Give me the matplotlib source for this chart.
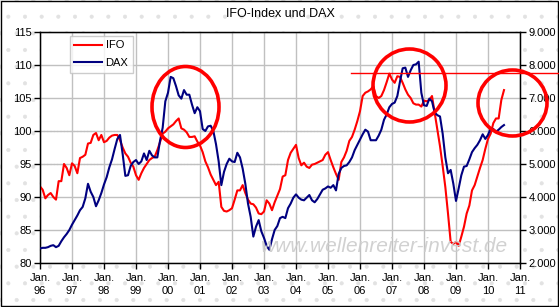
import numpy as np
import matplotlib
matplotlib.use('Agg')
import matplotlib.pyplot as plt
from matplotlib.patches import Ellipse, Rectangle

plt.rcParams['font.family'] = ['Liberation Sans', 'DejaVu Sans']

# monthly values, Jan 1996 .. Jul 2010
ifo = [
    91.6, 91.1, 89.8, 90.3, 90.6, 90.0, 89.6, 92.4, 92.4, 95.0, 94.4, 93.3,
    95.1, 94.7, 93.6, 95.9, 96.1, 96.4, 98.1, 98.2, 99.4, 99.7, 98.6, 99.4,
    98.3, 98.5, 99.0, 99.3, 99.4, 99.4, 98.6, 97.5, 96.6, 96.1, 95.2, 94.6,
    93.3, 92.6, 93.6, 94.4, 95.0, 95.6, 95.9, 96.1, 97.1, 98.3, 99.6, 99.9,
    100.4, 100.7, 101.0, 101.5, 101.9, 100.4, 100.2, 99.8, 99.1, 99.1, 99.2, 98.4,
    97.8, 96.8, 95.4, 94.5, 93.4, 92.6, 91.8, 92.3, 88.5, 87.9, 87.8, 88.0,
    88.3, 89.6, 91.0, 91.0, 91.8, 90.6, 89.6, 89.0, 88.9, 88.4, 87.5, 87.4,
    87.8, 89.5, 89.0, 88.0, 89.2, 90.2, 91.2, 93.1, 93.3, 95.6, 96.7, 97.3,
    97.9, 95.9, 94.8, 95.2, 94.6, 94.4, 94.9, 95.0, 95.2, 95.4, 95.6, 96.4,
    96.8, 95.6, 94.5, 93.5, 92.6, 95.3, 96.0, 97.0, 98.5, 99.1, 100.2, 101.5,
    103.0, 105.3, 105.8, 106.0, 106.3, 106.8, 105.3, 105.0, 105.3, 106.2, 107.4, 108.7,
    107.8, 107.3, 108.3, 108.2, 107.3, 106.3, 105.5, 105.0, 104.2, 104.0, 104.0, 103.7,
    104.6, 104.5, 104.7, 105.3, 102.8, 100.2, 97.7, 94.7, 91.5, 87.5, 83.2, 82.9,
    83.2, 82.6, 84.0, 85.5, 87.5, 88.7, 91.0, 91.8, 93.1, 94.4, 95.6, 97.3,
    98.8, 99.6, 101.2, 101.9, 101.9, 104.7, 106.2,
]

dax = [
    2440, 2460, 2460, 2480, 2520, 2540, 2480, 2520, 2660, 2780, 2880, 3000,
    3160, 3300, 3440, 3600, 3700, 3960, 4400, 4160, 4000, 3720, 3900, 4120,
    4380, 4600, 4900, 5140, 5460, 5760, 5880, 5300, 4640, 4660, 4940, 5060,
    5120, 5000, 5080, 5320, 5120, 5400, 5260, 5200, 5200, 5700, 6100, 6900,
    7160, 7640, 7600, 7360, 7080, 6980, 7240, 7100, 7100, 6800, 6540, 6720,
    6600, 6060, 6000, 6140, 6160, 6000, 5600, 5080, 4360, 4760, 5000, 5160,
    5080, 5060, 5340, 5200, 4860, 4400, 3800, 3400, 2800, 3100, 3300, 2960,
    2760, 2520, 2400, 2720, 3000, 3120, 3360, 3400, 3360, 3660, 3800, 3980,
    4080, 3980, 3920, 3900, 3980, 4060, 3900, 3840, 3940, 4080, 4220, 4260,
    4320, 4280, 4360, 4200, 4700, 4880, 4940, 4960, 5060, 5200, 5420, 5580,
    5740, 5900, 6040, 5980, 5720, 5720, 5720, 5860, 6040, 6340, 6500, 6720,
    6820, 6860, 7060, 7500, 7900, 7920, 7640, 7840, 8000, 8020, 8100, 7160,
    6780, 6760, 6980, 6900, 6560, 6480, 6440, 5920, 5200, 4720, 4820, 4400,
    3880, 4260, 4660, 4920, 4940, 5140, 5360, 5480, 5580, 5720, 5900, 5760,
    5880, 6080, 6060, 5980, 6040, 6120, 6180,
]

year_labels = ['96', '97', '98', '99', '00', '01', '02', '03', '04', '05',
               '06', '07', '08', '09', '10', '11']
ifo_ticks = [80, 85, 90, 95, 100, 105, 110, 115]
dax_ticks = [2000, 3000, 4000, 5000, 6000, 7000, 8000, 9000]

W, H = 559, 307
fig = plt.figure(figsize=(W / 100, H / 100), dpi=100)
fig.patch.set_facecolor('white')
plt.rcParams['hatch.linewidth'] = 0.5

# dotted background of the chart area
bg = fig.add_axes([0, 0, 1, 1], zorder=0)
bg.set_xlim(0, W)
bg.set_ylim(H, 0)
bg.axis('off')
bg.add_patch(Rectangle((0, 0), W, H, facecolor='white', edgecolor='#e2e2e2',
                       hatch='.', lw=0))
bg.add_patch(Rectangle((1, 1), W - 2.5, H - 2.5, facecolor='none',
                       edgecolor='black', lw=1.0))

ax = fig.add_axes([40 / W, (H - 263) / H, 480 / W, 231 / H], zorder=2)
ax.set_facecolor('white')
months = np.arange(len(ifo))

ax.set_xlim(0, 180)
ax.set_ylim(80, 115)
ax.set_xticks(np.arange(0, 181, 12))
ax.set_xticklabels(['Jan.\n' + y for y in year_labels], fontsize=8, linespacing=1.35)
ax.set_yticks(ifo_ticks)
ax.set_yticklabels([str(v) for v in ifo_ticks], fontsize=8)
ax.tick_params(axis='both', length=4, width=1, color='black', pad=2)
ax.tick_params(axis='x', pad=3)
ax.grid(True, color='#c0c0c0', lw=1)
for v in (95, 100):
    ax.axhline(v, color='#808080', lw=0.8, ls=(0, (1, 2)), zorder=1.5)
for s in ax.spines.values():
    s.set_color('black')
    s.set_linewidth(1)

ax2 = ax.twinx()
ax2.set_ylim(2000, 9000)
ax2.set_yticks(dax_ticks)
ax2.set_yticklabels([f"{v:,.0f}".replace(',', '.') for v in dax_ticks], fontsize=8)
ax2.tick_params(axis='y', length=4, width=1, pad=2)

l1, = ax.plot(months, ifo, color='#ff0000', lw=1.5, label='IFO', zorder=3)
l2, = ax2.plot(months, dax, color='#000080', lw=1.5, label='DAX', zorder=3)

leg = ax.legend([l1, l2], ['IFO', 'DAX'], loc='upper left',
                bbox_to_anchor=(30 / 480, 1 - 4 / 231), fontsize=8,
                frameon=True, fancybox=False, edgecolor='#c0c0c0',
                handlelength=2.5, handletextpad=0.3, labelspacing=0.7,
                borderpad=0.4, borderaxespad=0)
leg.get_frame().set_linewidth(1)

fig.text(280 / W, 1 - 14 / H, 'IFO-Index und DAX', ha='center', va='center',
         fontsize=9)

# overlay for watermark and hand-drawn marks
ov = fig.add_axes([0, 0, 1, 1], zorder=5)
ov.set_xlim(0, W)
ov.set_ylim(H, 0)
ov.axis('off')
ov.patch.set_alpha(0)
ov.text(385, 246, 'www.wellenreiter-invest.de', ha='center', va='center',
        fontsize=15, style='italic', color='#cccccc', alpha=0.9)
for cx, cy, w, h in [(185.5, 107, 67, 81), (409.5, 85.5, 73, 73),
                     (512.5, 103, 69, 66)]:
    ov.add_patch(Ellipse((cx, cy), w, h, facecolor='none', edgecolor='#ff0000',
                         lw=2.6))
ov.plot([351, 559], [73, 73], color='#ff0000', lw=1)

fig.savefig('out.png', dpi=100)
